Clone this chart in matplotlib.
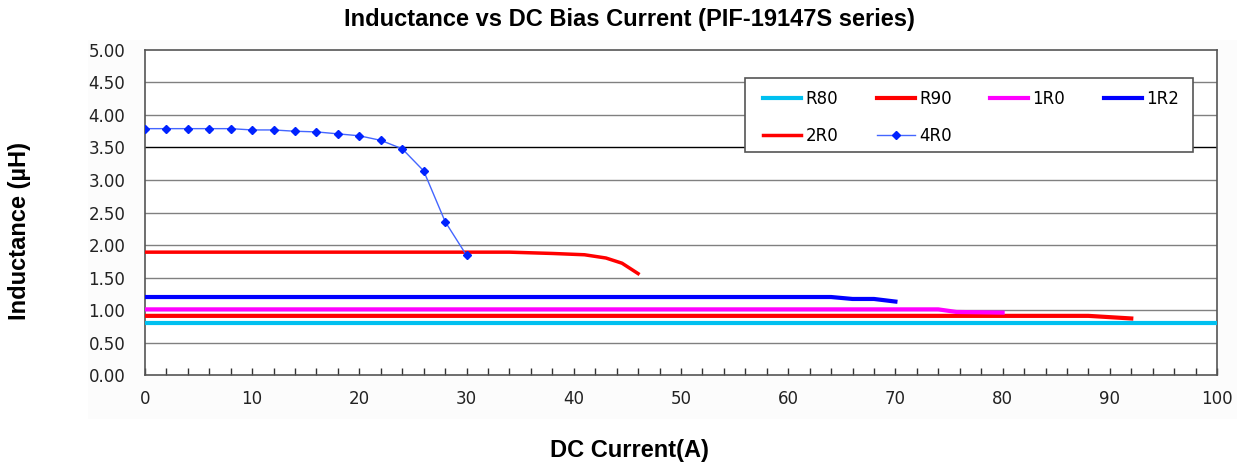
import matplotlib
matplotlib.use("Agg")
import matplotlib.pyplot as plt
from matplotlib.ticker import MultipleLocator, FormatStrFormatter
from matplotlib.patches import Rectangle

plt.rcParams['font.family'] = ['DejaVu Sans']

# ---- data ----
r80_x = [0, 100]
r80_y = [0.80, 0.80]
r90_x = [0, 88, 90, 92]
r90_y = [0.91, 0.91, 0.89, 0.87]
r10_x = [0, 74, 75.7, 78, 80]
r10_y = [1.01, 1.01, 0.97, 0.965, 0.96]
r12_x = [0, 64, 66, 68, 70]
r12_y = [1.20, 1.20, 1.17, 1.17, 1.13]
r20_x = [0, 34, 38, 41, 43, 44.5, 46]
r20_y = [1.89, 1.89, 1.87, 1.85, 1.80, 1.72, 1.56]
r40_x = [0, 2, 4, 6, 8, 10, 12, 14, 16, 18, 20, 22, 24, 26, 28, 30]
r40_y = [3.79, 3.79, 3.79, 3.79, 3.79, 3.77, 3.77, 3.75, 3.74, 3.71, 3.68, 3.61, 3.48, 3.14, 2.36, 1.84]

y_ticks = [0.0, 0.5, 1.0, 1.5, 2.0, 2.5, 3.0, 3.5, 4.0, 4.5, 5.0]
x_ticks = [0, 10, 20, 30, 40, 50, 60, 70, 80, 90, 100]

fig = plt.figure(figsize=(12.42, 4.65), dpi=100)
# faint chart-area background
fig.patches.append(Rectangle((0.071, 0.10), 0.925, 0.815, transform=fig.transFigure,
                             facecolor='#FCFCFC', edgecolor='none', zorder=-5))
ax = fig.add_axes([0.1167, 0.1935, 0.8632, 0.699])
ax.set_zorder(1)
ax.set_facecolor('white')

for y in y_ticks[1:-1]:
    ax.axhline(y, color='black' if y == 3.5 else '#808080', lw=1.0, zorder=1)

h_r80, = ax.plot(r80_x, r80_y, color='#00C0F0', lw=3, label='R80', zorder=3)
h_r90, = ax.plot(r90_x, r90_y, color='#FF0000', lw=3, label='R90', zorder=3)
h_r10, = ax.plot(r10_x, r10_y, color='#FF00FF', lw=3, label='1R0', zorder=3)
h_r12, = ax.plot(r12_x, r12_y, color='#0000FF', lw=3, label='1R2', zorder=3)
h_r20, = ax.plot(r20_x, r20_y, color='#FF0000', lw=2.5, label='2R0', zorder=3)
h_r40, = ax.plot(r40_x, r40_y, color='#4466FF', lw=1, marker='D', markersize=4,
                 markerfacecolor='#0022FF', markeredgecolor='#0022FF', label='4R0', zorder=4)

ax.set_xlim(0, 100)
ax.set_ylim(0, 5)
ax.set_xticks(x_ticks)
ax.set_yticks(y_ticks)
ax.xaxis.set_minor_locator(MultipleLocator(2))
ax.yaxis.set_major_formatter(FormatStrFormatter('%.2f'))
ax.tick_params(axis='x', which='both', direction='in', length=5, width=1,
               labelsize=12, pad=11, colors='#333333', labelcolor='#222222')
ax.tick_params(axis='y', which='both', length=0, labelsize=12, pad=14, labelcolor='#222222')
for s in ax.spines.values():
    s.set_color('#555555')
    s.set_linewidth(1.2)

fig.text(0.507, 0.958, 'Inductance vs DC Bias Current (PIF-19147S series)',
         fontsize=17, fontweight='bold', ha='center', va='center', family='Liberation Sans')
fig.text(0.507, 0.032, 'DC Current(A)', fontsize=17, fontweight='bold',
         ha='center', va='center', family='Liberation Sans')
fig.text(0.016, 0.503, 'Inductance (µH)', fontsize=17, fontweight='bold', rotation=90,
         ha='center', va='center', family='Liberation Sans')

# legend frame
ax.add_patch(Rectangle((0.56, 0.686), 0.418, 0.228, transform=ax.transAxes,
                       facecolor='white', edgecolor='#555555', lw=1.2, zorder=5))
handles = [h_r80, h_r20, h_r90, h_r40, h_r10, h_r12]
leg = ax.legend(handles=handles, labels=[h.get_label() for h in handles],
                ncol=4, loc='upper left', bbox_to_anchor=(0.5765, 0.878),
                frameon=False, fontsize=12, borderpad=0, borderaxespad=0,
                handlelength=2.3, columnspacing=2.3, labelspacing=1.15,
                handletextpad=0.25)
leg.set_zorder(6)

fig.savefig('out.png', dpi=100, facecolor='white')
